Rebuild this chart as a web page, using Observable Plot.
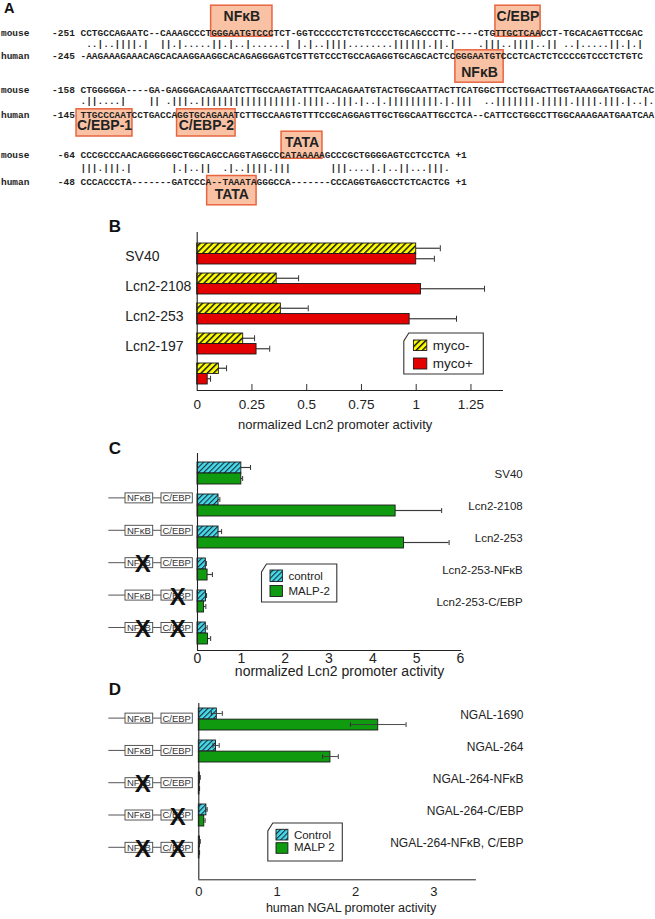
<!DOCTYPE html>
<html>
<head>
<meta charset="utf-8">
<script src="https://cdn.jsdelivr.net/npm/d3@7"></script>
<script src="https://cdn.jsdelivr.net/npm/@observablehq/plot@0.6"></script>
<style>
  body { margin: 0; background: #fff; }
  #root { position: relative; width: 655px; height: 919px; overflow: hidden; background: #fff; }
</style>
</head>
<body>
<svg width="0" height="0" style="position:absolute">
  <defs>
    <pattern id="hatchY" patternUnits="userSpaceOnUse" width="4.4" height="10" patternTransform="rotate(45)">
      <rect width="4.4" height="10" fill="#ffff00"></rect>
      <rect x="0" width="1.5" height="10" fill="#1a1a1a"></rect>
    </pattern>
    <pattern id="hatchC" patternUnits="userSpaceOnUse" width="3.7" height="10" patternTransform="rotate(45)">
      <rect width="3.7" height="10" fill="#45dbe9"></rect>
      <rect x="0" width="1.1" height="10" fill="#1d2a3a"></rect>
    </pattern>
  </defs>
</svg>
<div id="root"></div>
<script>
// ---------------- DATA ----------------
// Panel A: aligned promoter sequences (mouse Lcn2 vs human NGAL)
const mouseSeq = [
  "CCTGCCAGAATC--CAAAGCCCTGGGAATGTCCCTCT-GGTCCCCCTCTGTCCCCTGCAGCCCTTC----CTGTTGCTCAACCT-TGCACAGTTCCGAC",
  "CTGGGGGA----GA-GAGGGACAGAAATCTTGCCAAGTATTTCAACAGAATGTACTGGCAATTACTTCATGGCTTCCTGGACTTGGTAAAGGATGGACTAC",
  "CCCGCCCAACAGGGGGGCTGGCAGCCAGGTAGGCCCATAAAAAGCCCGCTGGGGAGTCCTCCTCA"
];
const humanSeq = [
  "-AAGAAAGAAACAGCACAAGGAAGGCACAGAGGGAGTCGTTGTCCCTGCCAGAGGTGCAGCACTCCGGGAATGTCCCTCACTCTCCCCGTCCCTCTGTC",
  "TTGCCCAATCCTGACCAGGTGCAGAAATCTTGCCAAGTGTTTCCGCAGGAGTTGCTGGCAATTGCCTCA--CATTCCTGGCCTTGGCAAAGAATGAATCAA",
  "CCCACCCTA-------GATCCCA--TAAATAGGGCCA-------CCCAGGTGAGCCTCTCACTCG"
];
const mouseStart = ["-251", "-158", "-64"];
const humanStart = ["-245", "-145", "-48"];
const endLabel = "+1";
// binding sites (alignment columns)
const siteNames   = ["NFκB", "C/EBP", "NFκB", "C/EBP-1", "C/EBP-2", "TATA", "TATA"];
const siteRow     = [0, 0, 0, 1, 1, 2, 2];
const siteSpecies = ["mouse", "mouse", "human", "human", "human", "mouse", "human"];
const siteStart   = [23, 73.05, 66, -0.7, 17, 35.4, 22.3];
const siteEnd     = [33.8, 81, 74.5, 9.15, 27.3, 42.6, 31];

// Panel B
const bGroups = ["SV40", "Lcn2-2108", "Lcn2-253", "Lcn2-197", ""];
const bMycoMinus    = [1.0, 0.363, 0.382, 0.21, 0.099];
const bMycoMinusErr = [0.11, 0.10, 0.125, 0.052, 0.035];
const bMycoPlus     = [1.0, 1.022, 0.97, 0.271, 0.048];
const bMycoPlusErr  = [0.083, 0.29, 0.214, 0.06, 0.013];
const bTicks = [0, 0.25, 0.5, 0.75, 1, 1.25];
const bLegend = ["myco-", "myco+"];
const bTitle = "normalized Lcn2 promoter activity";

// Panel C
const cGroups = ["SV40", "Lcn2-2108", "Lcn2-253", "Lcn2-253-NFκB", "Lcn2-253-C/EBP", ""];
const cControl    = [1.0, 0.48, 0.48, 0.19, 0.195, 0.19];
const cControlErr = [0.21, 0.03, 0.07, 0.012, 0.012, 0.03];
const cMalp       = [1.0, 4.52, 4.71, 0.23, 0.15, 0.24];
const cMalpErr    = [0.03, 1.05, 1.03, 0.11, 0.04, 0.06];
const cConstruct  = ["none", "wt", "wt", "nfkb", "cebp", "both"];
const cTicks = [0, 1, 2, 3, 4, 5, 6];
const cLegend = ["control", "MALP-2"];
const cTitle = "normalized Lcn2 promoter activity";

// Panel D
const dGroups = ["NGAL-1690", "NGAL-264", "NGAL-264-NFκB", "NGAL-264-C/EBP", "NGAL-264-NFκB, C/EBP"];
const dControl    = [0.23, 0.22, 0.015, 0.097, 0.015];
const dControlErr = [0.07, 0.04, 0.003, 0.01, 0.003];
const dMalp       = [2.29, 1.68, 0.008, 0.07, 0.008];
const dMalpErr    = [0.355, 0.10, 0.002, 0.01, 0.002];
const dConstruct  = ["wt", "wt", "nfkb", "cebp", "both"];
const dTicks = [0, 1, 2, 3];
const dLegend = ["Control", "MALP 2"];
const dTitle = "human NGAL promoter activity";

// ---------------- STYLE / LAYOUT ----------------
const FONT = "'Liberation Sans', Arial, Helvetica, sans-serif";
const MONO = "'Liberation Mono', 'Courier New', monospace";
const root = document.getElementById("root");
function put(node, top) {
  node.style.position = "absolute";
  node.style.left = "0px";
  node.style.top = top + "px";
  root.appendChild(node);
}

// ---------------- PANEL A ----------------
const AL = {
  height: 206, col0: 80, colW: 5.68, prefix: 14,
  rows: [
    {above: 15.7, mouse: 32.3, match: 43.3, human: 55.3, below: 71.7},
    {above: 78, mouse: 89.3, match: 100.8, human: 114.3, below: 125.5},
    {above: 141.7, mouse: 154.3, match: 167.3, human: 181, below: 194.3}
  ]
};
const chars = [];
mouseSeq.forEach((mseq, r) => {
  const L = AL.rows[r];
  const hseq = humanSeq[r];
  const addLine = (species, start, s, y) => {
    const pre = species + " ".repeat(AL.prefix - species.length - start.length - 1) + start + " ";
    const suf = r === mouseSeq.length - 1 ? " " + endLabel : "";
    [...(pre + s + suf)].forEach((ch, j) => { if (ch !== " ") chars.push({col: j - AL.prefix, ch, y}); });
  };
  addLine("mouse", mouseStart[r], mseq, L.mouse);
  addLine("human", humanStart[r], hseq, L.human);
  for (let j = 0; j < Math.min(mseq.length, hseq.length); j++) {
    const a = mseq[j], b = hseq[j];
    if (a === "-" || b === "-") continue;
    chars.push({col: j, ch: a === b ? "|" : ".", y: L.match});
  }
});
const sites = siteNames.map((name, k) => {
  const L = AL.rows[siteRow[k]];
  const mouse = siteSpecies[k] === "mouse";
  return {
    name, start: siteStart[k], end: siteEnd[k],
    top: mouse ? L.above - 10.5 : L.human - 5.5,
    bottom: mouse ? L.mouse + 4 : L.below + 10.5,
    labelY: mouse ? L.above : L.below
  };
});
const plotA = Plot.plot({
  width: 655, height: AL.height, margin: 0,
  style: {background: "none", overflow: "visible"},
  x: {domain: [0, 100], range: [AL.col0, AL.col0 + 100 * AL.colW], axis: null},
  y: {domain: [0, AL.height], range: [0, AL.height], axis: null},
  marks: [
    Plot.rect(sites, {x1: "start", x2: "end", y1: "top", y2: "bottom", fill: "#f9c2a4", stroke: "#e8653f", strokeWidth: 1.5}),
    Plot.text(chars, {x: d => d.col + 0.5, y: "y", text: "ch", fontFamily: MONO, fontSize: 9.47, fontWeight: "bold", fill: "#1e1e1e"}),
    Plot.text(sites, {x: d => (d.start + d.end) / 2, y: "labelY", text: "name", fontFamily: FONT, fontSize: 14, fontWeight: "bold", fill: "#222"})
  ]
});
put(plotA, 0);

// ---------------- BAR PANELS ----------------
function barPanel(p) {
  const n = p.groups.length;
  const idx = d3.range(n);
  const band = d3.scaleBand(idx, [p.mt, p.height - p.mb]).paddingInner(p.pi).paddingOuter(p.po).align(p.align);
  const bw = band.bandwidth();
  const frameH = p.height - p.mt - p.mb;
  const rows = idx.map(i => ({i, label: p.groups[i], v1: p.v1[i], e1: p.e1[i], v2: p.v2[i], e2: p.e2[i]}));
  const errMarks = [];
  [["1", bw / 4], ["2", bw * 3 / 4]].forEach(([k, c]) => {
    const V = d => d["v" + k], E = d => d["e" + k];
    const rr = rows.filter(d => E(d) > 0);
    const lo = d => p.symmetric ? V(d) - E(d) : V(d);
    errMarks.push(Plot.barX(rr, {x1: lo, x2: d => V(d) + E(d), y: "i", insetTop: c - 0.6, insetBottom: bw - c - 0.6, fill: "#3a3a3a"}));
    errMarks.push(Plot.tickX(rr, {x: d => V(d) + E(d), y: "i", insetTop: c - p.cap / 2, insetBottom: bw - c - p.cap / 2, stroke: "#333", strokeWidth: 1}));
    if (p.symmetric) errMarks.push(Plot.tickX(rr, {x: lo, y: "i", insetTop: c - p.cap / 2, insetBottom: bw - c - p.cap / 2, stroke: "#333", strokeWidth: 1}));
  });
  const bars = [
    Plot.barX(rows, {x: "v1", y: "i", insetBottom: bw / 2, fill: () => p.fill1, stroke: "#1a1a1a", strokeWidth: 0.9}),
    Plot.barX(rows, {x: "v2", y: "i", insetTop: bw / 2, fill: () => p.fill2, stroke: "#1a1a1a", strokeWidth: 0.9})
  ];
  const marks = [
    ...(p.symmetric ? [...bars, ...errMarks] : [...errMarks, ...bars]),
    Plot.ruleX([0], {stroke: "#222", strokeWidth: 1.1}),
    Plot.text(rows.filter(d => d.label), {y: "i", text: "label", frameAnchor: p.labelAnchor, textAnchor: p.labelTextAnchor,
      dx: p.labelDx, dy: p.labelDy, fontSize: p.labelSize, fontFamily: FONT, fill: "#222"}),
    Plot.text([p.title], {text: d => d, frameAnchor: "bottom", dx: p.titleDx, dy: p.titleDy, fontSize: p.titleSize, fontFamily: FONT, fill: "#222"})
  ];
  if (p.upTicks) marks.push(Plot.tickX(p.upTicks, {x: d => d, insetTop: frameH - 6, stroke: "#333"}));
  const svg = Plot.plot({
    width: 655, height: p.height,
    marginTop: p.mt, marginBottom: p.mb, marginLeft: p.ml, marginRight: p.mr,
    style: {background: "none", overflow: "visible", fontFamily: FONT, fontSize: p.tickFont + "px", color: "#222"},
    x: {domain: [0, p.xmax], ticks: p.ticks, tickFormat: d => String(d), tickSize: 0, tickPadding: p.tickPad, line: true, label: null},
    y: {type: "band", domain: idx, paddingInner: p.pi, paddingOuter: p.po, align: p.align, axis: null},
    color: {type: "identity"},
    marks
  });
  put(svg, p.top);
  return {band, bw, top: p.top};
}

const PB = barPanel({
  groups: bGroups, v1: bMycoMinus, e1: bMycoMinusErr, v2: bMycoPlus, e2: bMycoPlusErr,
  fill1: "url(#hatchY)", fill2: "#e20000", symmetric: false, cap: 6,
  top: 206, height: 234, mt: 26, mb: 50, ml: 196.7, mr: 153, xmax: 1.394,
  pi: 0.3, po: 0.283, align: 0.647,
  ticks: bTicks, upTicks: bTicks.slice(1), tickPad: 9, tickFont: 13.5,
  labelAnchor: "left", labelTextAnchor: "start", labelDx: -72, labelDy: 2.5, labelSize: 14,
  title: bTitle, titleDx: -14.7, titleDy: 38, titleSize: 13
});

const PC = barPanel({
  groups: cGroups, v1: cControl, e1: cControlErr, v2: cMalp, e2: cMalpErr,
  fill1: "url(#hatchC)", fill2: "#0f9a0f", symmetric: false, cap: 5,
  top: 440, height: 240, mt: 13, mb: 30, ml: 197, mr: 195, xmax: 6,
  pi: 0.32, po: 0.2, align: 0.615,
  ticks: cTicks, tickPad: 3, tickFont: 14,
  labelAnchor: "right", labelTextAnchor: "end", labelDx: 62.2, labelDy: 0.5, labelSize: 11.5,
  title: cTitle, titleDx: 10.5, titleDy: 25, titleSize: 14
});

const PD = barPanel({
  groups: dGroups, v1: dControl, e1: dControlErr, v2: dMalp, e2: dMalpErr,
  fill1: "url(#hatchC)", fill2: "#0f9a0f", symmetric: true, cap: 5,
  top: 680, height: 239, mt: 23, mb: 39.7, ml: 198.3, mr: 180.1, xmax: 3.53,
  pi: 0.31, po: 0.384, align: 0.2,
  ticks: dTicks, tickPad: 6.7, tickFont: 13,
  labelAnchor: "right", labelTextAnchor: "end", labelDx: 48.1, labelDy: -4.5, labelSize: 12,
  title: dTitle, titleDx: 14, titleDy: 32.4, titleSize: 12.5
});

// ---------------- OVERLAY: letters, constructs, legends ----------------
const ov = d3.create("svg").attr("width", 655).attr("height", 919)
  .style("pointer-events", "none").style("font-family", FONT);

// panel letters
[["A", 4, 8.3, 14.5], ["B", 108.8, 226, 17], ["C", 108.8, 448, 17], ["D", 108.8, 689, 17]].forEach(([t, x, y, s]) => {
  ov.append("text").attr("x", x).attr("y", y).attr("dy", "0.35em").attr("font-size", s)
    .attr("font-weight", "bold").attr("fill", "#111").text(t);
});

// promoter constructs
const CL = {x0: 108.3, b1: [125, 152.7], b2: [161, 192.3], h: 10, x1: 142.7, x2: 177.7};
function construct(yc, type) {
  const g = ov.append("g");
  g.append("line").attr("x1", CL.x0).attr("x2", CL.b1[0]).attr("y1", yc).attr("y2", yc).attr("stroke", "#555").attr("stroke-width", 1);
  g.append("line").attr("x1", CL.b1[1]).attr("x2", CL.b2[0]).attr("y1", yc).attr("y2", yc).attr("stroke", "#555").attr("stroke-width", 1);
  [[CL.b1, "NFκB"], [CL.b2, "C/EBP"]].forEach(([b, t]) => {
    g.append("rect").attr("x", b[0]).attr("y", yc - CL.h / 2).attr("width", b[1] - b[0]).attr("height", CL.h)
      .attr("fill", "#fff").attr("stroke", "#444").attr("stroke-width", 0.9);
    g.append("text").attr("x", (b[0] + b[1]) / 2).attr("y", yc).attr("dy", "0.36em").attr("text-anchor", "middle")
      .attr("font-size", 9.5).attr("fill", "#333").text(t);
  });
  const xs = [];
  if (type === "nfkb" || type === "both") xs.push(CL.x1);
  if (type === "cebp" || type === "both") xs.push(CL.x2);
  xs.forEach(x => ov.append("text").attr("x", x).attr("y", yc + 1).attr("dy", "0.36em").attr("text-anchor", "middle")
    .attr("font-size", 24).attr("font-weight", "bold").attr("fill", "#111").text("X"));
}
cConstruct.forEach((t, i) => { if (t !== "none") construct(PC.top + PC.band(i) + PC.bw / 2 - 6.5, t); });
dConstruct.forEach((t, i) => { if (t !== "none") construct(PD.top + PD.band(i) + PD.bw / 2 - 1, t); });

// legends
function legend(box, labels, fills, sw, ty, fs) {
  const [x0, y0, x1, y1] = box;
  ov.append("path").attr("d", `M${x0 + 5},${y0}L${x1},${y0}L${x1},${y1}L${x0},${y1}L${x0},${y0 + 8}Z`)
    .attr("fill", "#fff").attr("stroke", "#333").attr("stroke-width", 1.1);
  labels.forEach((t, k) => {
    ov.append("rect").attr("x", sw[0]).attr("y", sw[2 + k * 2]).attr("width", sw[1] - sw[0]).attr("height", sw[3 + k * 2] - sw[2 + k * 2])
      .attr("fill", fills[k]).attr("stroke", "#1a1a1a").attr("stroke-width", 0.9);
    ov.append("text").attr("x", sw[1] + 6).attr("y", ty[k]).attr("dy", "0.36em").attr("font-size", fs).attr("fill", "#222").text(t);
  });
}
legend([403.8, 333, 483.3, 374], bLegend, ["url(#hatchY)", "#e20000"], [413.4, 426.8, 340, 350.5, 358, 369], [345, 363], 13.5);
legend([261.5, 564, 336.8, 602], cLegend, ["url(#hatchC)", "#0f9a0f"], [270, 282.4, 570, 581.5, 585.5, 596.5], [576, 591], 11.5);
legend([267.8, 823, 342.3, 861], dLegend, ["url(#hatchC)", "#0f9a0f"], [276, 287.9, 829.3, 840, 842.7, 853.3], [835, 847.3], 11.5);

put(ov.node(), 0);
</script>
</body>
</html>
